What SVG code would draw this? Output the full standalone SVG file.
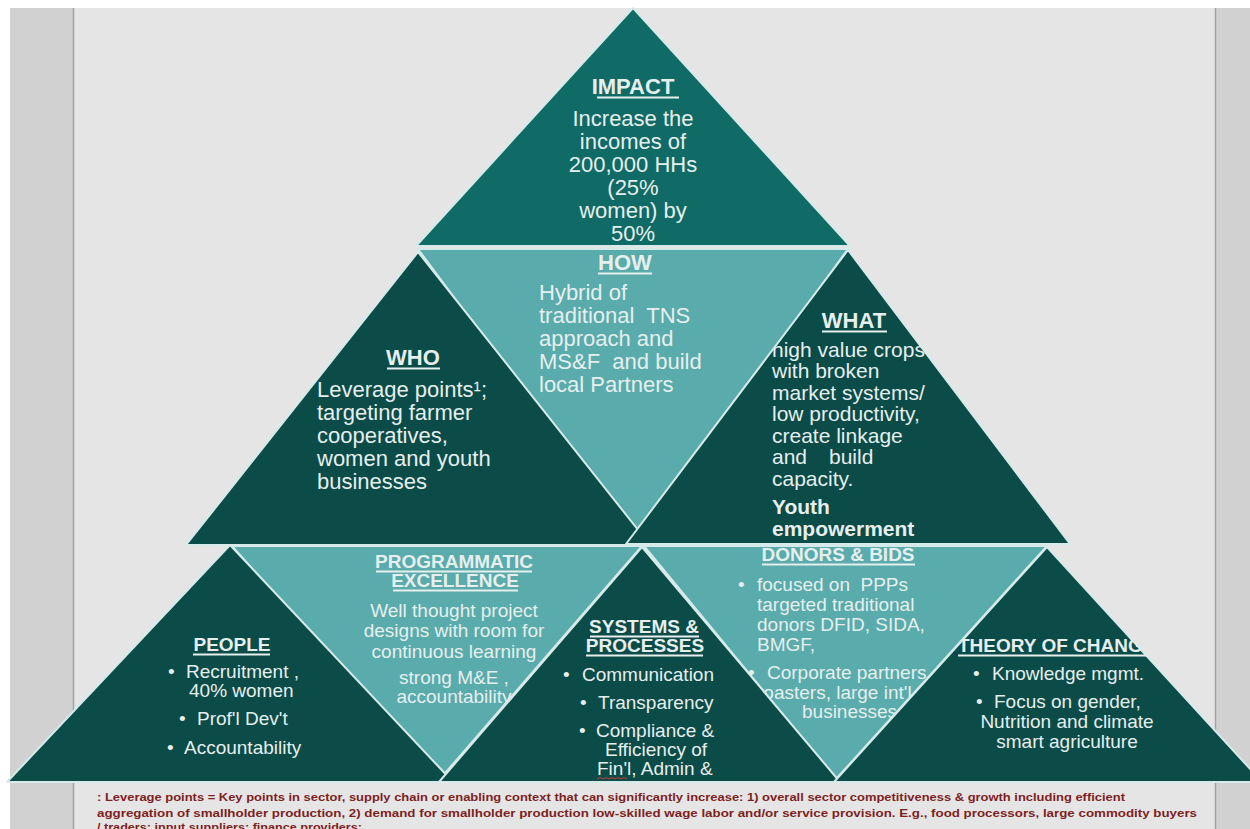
<svg xmlns="http://www.w3.org/2000/svg" width="1250" height="829" viewBox="0 0 1250 829">
  <style>
    .dark { fill: #0b4b48; stroke: #d6ebe9; stroke-width: 2; stroke-linejoin: round; }
    .mid { fill: #106a65; stroke: #d6ebe9; stroke-width: 2; stroke-linejoin: round; }
    .light { fill: #5aabab; stroke: #d6ebe9; stroke-width: 2; stroke-linejoin: round; }
    .t { font-family: "Liberation Sans", Arial, sans-serif; fill: #e6efee; }
    .h22 { font-size: 22px; font-weight: bold; }
    .b22 { font-size: 22px; }
    .b21 { font-size: 21px; }
    .k21 { font-size: 21px; font-weight: bold; }
    .h19 { font-size: 19px; font-weight: bold; }
    .b19 { font-size: 19px; }
    .ul { stroke: #e6efee; stroke-width: 2; }
    .fn { font-family: "Liberation Sans", Arial, sans-serif; font-size: 11.5px; font-weight: bold; fill: #7d1f1f; }
  </style>
  <defs>
    <clipPath id="clipWhat"><polygon points="848,250 626,544 1070,544"/></clipPath>
    <clipPath id="clipTheory"><polygon points="1047,547 834,782 1262,782"/></clipPath>
    <clipPath id="clipProg"><polygon points="232,546 642,546 440,779"/></clipPath>
    <clipPath id="clipDonors"><polygon points="644,546 1047,546 836,779"/></clipPath>
  </defs>

  <!-- slide background and side panels -->
  <rect x="0" y="0" width="1250" height="829" fill="#ffffff"/>
  <rect x="10" y="8" width="1240" height="821" fill="#e5e5e5"/>
  <rect x="10" y="8" width="63" height="821" fill="#d1d1d1"/>
  <rect x="1215" y="8" width="35" height="821" fill="#d1d1d1"/>
  <line x1="73.5" y1="8" x2="73.5" y2="829" stroke="#a4a4a4" stroke-width="1.5"/>
  <line x1="1215.5" y1="8" x2="1215.5" y2="829" stroke="#a4a4a4" stroke-width="1.5"/>

  <!-- top -->
  <g id="impact">
    <polygon class="mid" points="633,8 416,246 850,246"/>
    <text class="t h22" x="633" y="94" text-anchor="middle">IMPACT</text>
    <line class="ul" x1="597" y1="97.5" x2="679" y2="97.5"/>
    <g class="t b22" text-anchor="middle">
      <text x="633" y="126">Increase the</text>
      <text x="633" y="149">incomes of</text>
      <text x="633" y="172">200,000 HHs</text>
      <text x="633" y="195">(25%</text>
      <text x="633" y="218">women) by</text>
      <text x="633" y="241">50%</text>
    </g>
  </g>

  <!-- middle row -->
  <g id="how">
    <polygon class="light" points="418,249 848,249 636,542"/>
    <text class="t h22" x="625" y="270" text-anchor="middle">HOW</text>
    <line class="ul" x1="598" y1="273.5" x2="652" y2="273.5"/>
    <g class="t b22">
      <text x="539" y="300">Hybrid of</text>
      <text x="539" y="323" xml:space="preserve">traditional  TNS</text>
      <text x="539" y="346">approach and</text>
      <text x="539" y="369" xml:space="preserve">MS&amp;F  and build</text>
      <text x="539" y="392">local Partners</text>
    </g>
  </g>

  <g id="who">
    <polygon class="dark" points="418,252 186,545 650,545"/>
    <text class="t h22" x="413" y="365" text-anchor="middle">WHO</text>
    <line class="ul" x1="387" y1="368.5" x2="440" y2="368.5"/>
    <g class="t b22">
      <text x="317" y="397">Leverage points¹;</text>
      <text x="317" y="420">targeting farmer</text>
      <text x="317" y="443">cooperatives,</text>
      <text x="317" y="466">women and youth</text>
      <text x="317" y="489">businesses</text>
    </g>
  </g>

  <g id="what">
    <polygon class="dark" points="848,250 626,544 1070,544"/>
    <g clip-path="url(#clipWhat)">
      <text class="t h22" x="854" y="328" text-anchor="middle">WHAT</text>
      <line class="ul" x1="822" y1="331.5" x2="887" y2="331.5"/>
      <g class="t b21">
        <text x="772" y="357">high value crops</text>
        <text x="772" y="378">with broken</text>
        <text x="772" y="400">market systems/</text>
        <text x="772" y="421">low productivity,</text>
        <text x="772" y="443">create linkage</text>
        <text x="772" y="464">and<tspan x="829">build</tspan></text>
        <text x="772" y="486">capacity.</text>
      </g>
      <g class="t k21">
        <text x="772" y="514">Youth</text>
        <text x="772" y="536">empowerment</text>
      </g>
    </g>
  </g>

  <!-- bottom row -->
  <g id="programmatic">
    <polygon class="light" points="232,546 642,546 440,779"/>
    <g clip-path="url(#clipProg)">
      <g class="t h19" text-anchor="middle">
        <text x="454" y="568">PROGRAMMATIC</text>
        <text x="455" y="587">EXCELLENCE</text>
      </g>
      <line class="ul" x1="376" y1="571.5" x2="532" y2="571.5"/>
      <line class="ul" x1="393" y1="590.5" x2="518" y2="590.5"/>
      <g class="t b19" text-anchor="middle">
        <text x="454" y="617">Well thought project</text>
        <text x="454" y="637">designs with room for</text>
        <text x="454" y="658">continuous learning</text>
        <text x="454" y="684">strong M&amp;E ,</text>
        <text x="454" y="703">accountability</text>
      </g>
    </g>
  </g>

  <g id="donors">
    <polygon class="light" points="644,546 1047,546 836,779"/>
    <g clip-path="url(#clipDonors)">
      <text class="t h19" x="838" y="561" text-anchor="middle">DONORS &amp; BIDS</text>
      <line class="ul" x1="762" y1="564.5" x2="915" y2="564.5"/>
      <g class="t b19">
        <text x="738" y="591">•</text>
        <text x="757" y="591" xml:space="preserve">focused on  PPPs</text>
        <text x="757" y="611">targeted traditional</text>
        <text x="757" y="631">donors DFID, SIDA,</text>
        <text x="757" y="651">BMGF,</text>
        <text x="748" y="679">•</text>
        <text x="767" y="679">Corporate partners,</text>
        <text x="757" y="699">roasters, large int'l</text>
        <text x="802" y="718">businesses</text>
      </g>
    </g>
  </g>

  <g id="people">
    <polygon class="dark" points="230,545 7,782 453,782"/>
    <text class="t h19" x="232" y="651" text-anchor="middle">PEOPLE</text>
    <line class="ul" x1="193" y1="654.5" x2="270" y2="654.5"/>
    <g class="t b19">
      <text x="168" y="678">•</text>
      <text x="186" y="678">Recruitment ,</text>
      <text x="189" y="697">40% women</text>
      <text x="179" y="725">•</text>
      <text x="197" y="725">Prof'l Dev't</text>
      <text x="167" y="754">•</text>
      <text x="184" y="754">Accountability</text>
    </g>
  </g>

  <g id="systems">
    <polygon class="dark" points="642,547 439,782 840,782"/>
    <g class="t h19" text-anchor="middle">
      <text x="644" y="633">SYSTEMS &amp;</text>
      <text x="645" y="652">PROCESSES</text>
    </g>
    <line class="ul" x1="590" y1="636.5" x2="699" y2="636.5"/>
    <line class="ul" x1="586" y1="655.5" x2="703" y2="655.5"/>
    <g class="t b19">
      <text x="563" y="681">•</text>
      <text x="582" y="681">Communication</text>
      <text x="580" y="709">•</text>
      <text x="598" y="709">Transparency</text>
      <text x="579" y="737">•</text>
      <text x="596" y="737">Compliance &amp;</text>
      <text x="656" y="756" text-anchor="middle">Efficiency of</text>
      <text x="597" y="775">Fin'l, Admin &amp;</text>
    </g>
    <polyline points="597,779 600,777.5 603,779 606,777.5 609,779 612,777.5 615,779 618,777.5 621,779 624,777.5 627,779" fill="none" stroke="#d23a3a" stroke-width="1"/>
  </g>

  <g id="theory">
    <polygon class="dark" points="1047,547 834,782 1262,782"/>
    <g clip-path="url(#clipTheory)">
      <text class="t h19" x="958" y="652">THEORY OF CHANGE</text>
      <line class="ul" x1="958" y1="655.5" x2="1160" y2="655.5"/>
      <g class="t b19">
        <text x="973" y="680">•</text>
        <text x="992" y="680">Knowledge mgmt.</text>
        <text x="976" y="708">•</text>
        <text x="994" y="708">Focus on gender,</text>
        <text x="1067" y="728" text-anchor="middle">Nutrition and climate</text>
        <text x="1067" y="748" text-anchor="middle">smart agriculture</text>
      </g>
    </g>
  </g>

  <g id="connectors"/>

  <!-- footnote -->
  <g id="footnote">
    <text class="fn" x="97" y="801" textLength="1028" lengthAdjust="spacingAndGlyphs">: Leverage points = Key points in sector, supply chain or enabling context that can significantly increase: 1) overall sector competitiveness &amp; growth including efficient</text>
    <text class="fn" x="97" y="817" textLength="1100" lengthAdjust="spacingAndGlyphs">aggregation of smallholder production, 2) demand for smallholder production low-skilled wage labor and/or service provision. E.g., food processors, large commodity buyers</text>
    <text class="fn" x="97" y="831" textLength="265" lengthAdjust="spacingAndGlyphs">/ traders; input suppliers; finance providers;</text>
  </g>
</svg>
